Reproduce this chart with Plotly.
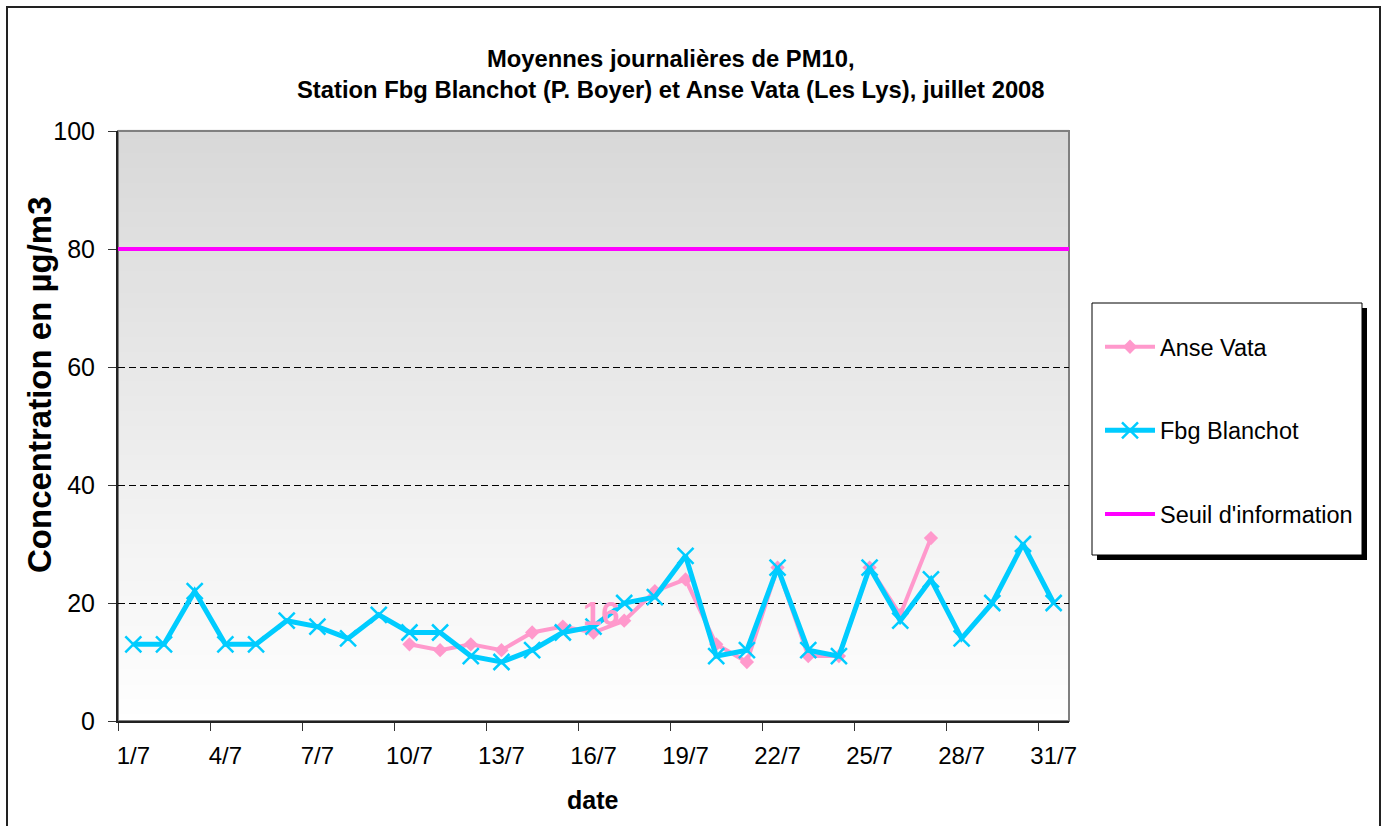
import plotly.graph_objects as go

dates = [f"{d}/7" for d in range(1, 32)]
fbg_blanchot = [13, 13, 22, 13, 13, 17, 16, 14, 18, 15, 15, 11, 10, 12, 15, 16,
                20, 21, 28, 11, 12, 26, 12, 11, 26, 17, 24, 14, 20, 30, 20]
anse_vata = [None, None, None, None, None, None, None, None, None, 13, 12, 13, 12,
             15, 16, 15, 17, 22, 24, 13, 10, 26, 11, 11, 26, 18, 31,
             None, None, None, None]
seuil = 80
label_idx = 15
label_text = "16"
y_ticks = [0, 20, 40, 60, 80, 100]

W, H = 1387, 826
L, R, T, B = 118, 1069, 131, 721
FONT = "Arial, Liberation Sans, sans-serif"


def px_x(px):
    return (px - L) / (R - L)


def px_y(py):
    return (B - py) / (B - T)


fig = go.Figure()

fig.add_trace(go.Scatter(
    x=dates, y=anse_vata, name="Anse Vata", mode="lines+markers",
    line=dict(color="#ff99cc", width=4),
    marker=dict(symbol="diamond", size=11, color="#ff99cc"),
    legendgroup="a", legendrank=1, connectgaps=False,
))
fig.add_trace(go.Scatter(
    x=dates, y=fbg_blanchot, name="Fbg Blanchot", mode="lines+markers",
    line=dict(color="#00ccff", width=5),
    marker=dict(symbol="x-thin", size=16, line=dict(color="#00ccff", width=2.5)),
    legendgroup="b", legendrank=2,
))
fig.add_trace(go.Scatter(
    x=[None], y=[None], name="Seuil d'information", mode="lines",
    line=dict(color="#ff00ff", width=4),
    legendgroup="c", legendrank=3,
))

shapes = []
# gradient plot background
n = 80
for i in range(n):
    f = i / n
    c = int(round(0xd8 + (0xff - 0xd8) * (1 - f - 0.5 / n)))
    c = max(0, min(255, c))
    shapes.append(dict(type="rect", xref="paper", yref="paper",
                       x0=0, x1=1, y0=f, y1=f + 1.0 / n + 0.002,
                       fillcolor=f"rgb({c},{c},{c})", line=dict(width=0),
                       layer="below"))
# plot area border (top/right gray)
shapes.append(dict(type="rect", xref="paper", yref="paper", x0=0, x1=1, y0=0, y1=1,
                   line=dict(color="#808080", width=2), fillcolor="rgba(0,0,0,0)",
                   layer="below"))
# threshold line
shapes.append(dict(type="line", xref="paper", yref="y", x0=0, x1=1, y0=seuil, y1=seuil,
                   line=dict(color="#ff00ff", width=4), layer="above"))
# outer figure border
shapes.append(dict(type="rect", xref="paper", yref="paper",
                   x0=px_x(7), x1=px_x(1380), y0=px_y(840), y1=px_y(7),
                   line=dict(color="#222222", width=2), fillcolor="rgba(0,0,0,0)"))
# legend shadow and box
shapes.append(dict(type="rect", xref="paper", yref="paper",
                   x0=px_x(1097), x1=px_x(1367), y0=px_y(560), y1=px_y(308),
                   line=dict(width=0), fillcolor="black"))
shapes.append(dict(type="rect", xref="paper", yref="paper",
                   x0=px_x(1092), x1=px_x(1362), y0=px_y(555), y1=px_y(303),
                   line=dict(color="black", width=1), fillcolor="white"))

annotations = [
    dict(text="<b>Moyennes journalières de PM10,</b><br><b>Station Fbg Blanchot (P. Boyer) et Anse Vata (Les Lys), juillet 2008</b>",
         xref="paper", yref="paper", x=px_x(671), y=px_y(74), xanchor="center", yanchor="middle",
         showarrow=False, font=dict(family=FONT, size=23.8, color="black"), align="center"),
    dict(text="<b>Concentration en µg/m3</b>", xref="paper", yref="paper",
         x=px_x(39), y=px_y(385), textangle=-90, showarrow=False,
         xanchor="center", yanchor="middle", font=dict(family=FONT, size=33, color="black")),
    dict(text="<b>date</b>", xref="paper", yref="paper", x=px_x(593), y=px_y(800),
         showarrow=False, xanchor="center", yanchor="middle",
         font=dict(family=FONT, size=25, color="black")),
    dict(text=f"<b>{label_text}</b>", x=dates[label_idx], y=anse_vata[label_idx], xref="x", yref="y",
         showarrow=False, xshift=8, yshift=19,
         font=dict(family=FONT, size=33, color="#ff99cc")),
]

fig.update_layout(
    width=W, height=H,
    margin=dict(l=L, r=W - R, t=T, b=H - B, autoexpand=False),
    paper_bgcolor="white", plot_bgcolor="rgba(0,0,0,0)",
    font=dict(family=FONT, size=24, color="black"),
    shapes=shapes, annotations=annotations,
    showlegend=True,
    legend=dict(x=px_x(1100), y=px_y(325), xanchor="left", yanchor="top",
                bgcolor="rgba(0,0,0,0)", borderwidth=0,
                font=dict(family=FONT, size=23.5, color="black"),
                tracegroupgap=50, itemwidth=50),
)
fig.update_xaxes(
    type="category", range=[-0.5, 30.5], dtick=3, tickson="boundaries",
    ticks="outside", ticklen=8, tickcolor="#333333", showgrid=False, tickangle=0,
    showline=True, linecolor="#222222", linewidth=2, zeroline=False,
    ticklabelstandoff=12,
    tickfont=dict(family=FONT, size=24, color="black"),
)
fig.update_yaxes(
    range=[0, 100], tickvals=y_ticks, ticks="outside", ticklen=8, tickcolor="#333333",
    showgrid=True, gridcolor="black", gridwidth=1, griddash="7px,4px",
    showline=True, linecolor="#222222", linewidth=2, zeroline=False,
    ticklabelstandoff=8,
    tickfont=dict(family=FONT, size=25, color="black"),
)

fig.write_html(
    "out.html",
    config={"displayModeBar": False},
    post_script="document.body.style.margin='0';document.body.style.overflow='hidden';",
)
